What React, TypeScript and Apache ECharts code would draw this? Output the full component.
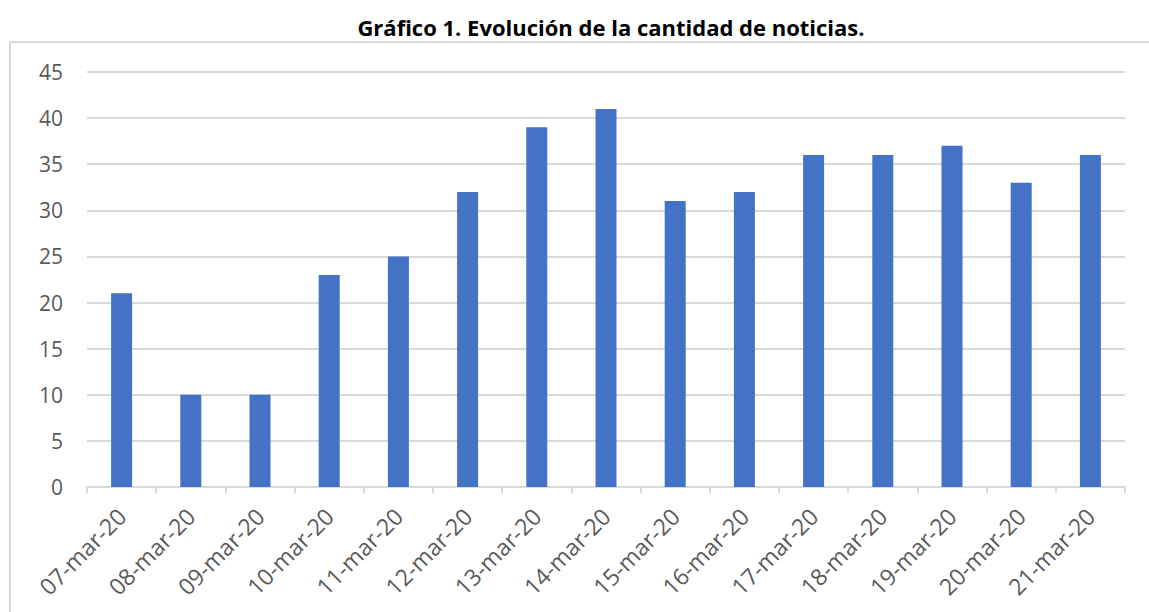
import React, { useEffect, useRef } from "react";
import * as echarts from "echarts";

const categories = [
  "07-mar-20", "08-mar-20", "09-mar-20", "10-mar-20", "11-mar-20",
  "12-mar-20", "13-mar-20", "14-mar-20", "15-mar-20", "16-mar-20",
  "17-mar-20", "18-mar-20", "19-mar-20", "20-mar-20", "21-mar-20",
];
const noticias = [21, 10, 10, 23, 25, 32, 39, 41, 31, 32, 36, 36, 37, 33, 36];
const titleText = "Gráfico 1. Evolución de la cantidad de noticias.";

export default function App() {
  const ref = useRef<HTMLDivElement>(null);
  useEffect(() => {
    document.body.style.margin = "0";
    const chart = echarts.init(ref.current!, undefined, { renderer: "svg" });
    chart.setOption({
      animation: false,
      backgroundColor: "#ffffff",
      textStyle: { fontFamily: "Open Sans" },
      graphic: [
        {
          type: "text",
          x: 611,
          y: 27,
          style: {
            text: titleText,
            fontFamily: "Open Sans",
            fontWeight: "bold",
            fontSize: 22,
            fill: "#000000",
            align: "center",
            verticalAlign: "middle",
          },
        },
        {
          type: "line",
          shape: { x1: 9, y1: 42, x2: 1149, y2: 42 },
          style: { stroke: "#d9d9d9", lineWidth: 2 },
        },
        {
          type: "line",
          shape: { x1: 10, y1: 42, x2: 10, y2: 612 },
          style: { stroke: "#d9d9d9", lineWidth: 2 },
        },
      ],
      grid: { left: 87, right: 24, top: 72, bottom: 125, containLabel: false },
      xAxis: {
        type: "category",
        data: categories,
        axisLine: { lineStyle: { color: "#d9d9d9", width: 2 } },
        axisTick: { show: true, alignWithLabel: false, length: 6, lineStyle: { color: "#d9d9d9", width: 2 } },
        axisLabel: {
          rotate: 45,
          interval: 0,
          color: "#595959",
          fontSize: 23,
          fontFamily: "Open Sans",
          margin: 25,
        },
      },
      yAxis: {
        type: "value",
        min: 0,
        max: 45,
        interval: 5,
        axisLine: { show: false },
        axisTick: { show: false },
        splitLine: { lineStyle: { color: "#d9d9d9", width: 2 } },
        axisLabel: { color: "#595959", fontSize: 21, fontFamily: "Open Sans", margin: 24 },
      },
      series: [
        {
          type: "bar",
          data: noticias,
          barWidth: 21,
          itemStyle: { color: "#4472C4" },
        },
      ],
    });
    return () => chart.dispose();
  }, []);
  return <div ref={ref} style={{ width: 1149, height: 612 }} />;
}
